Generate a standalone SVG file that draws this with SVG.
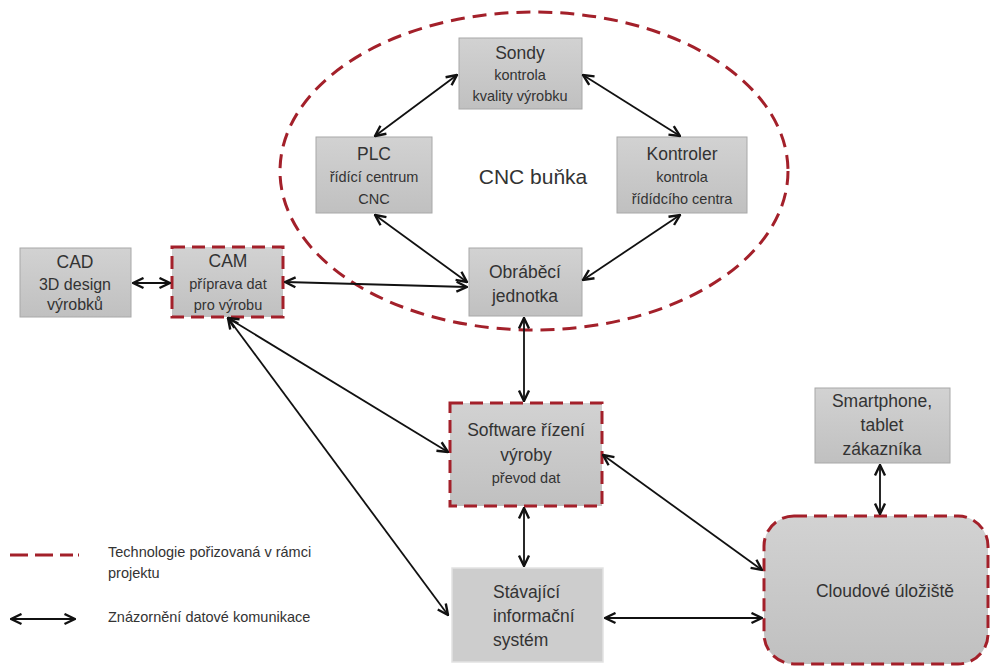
<svg xmlns="http://www.w3.org/2000/svg" width="991" height="667" viewBox="0 0 991 667">
<defs>
<linearGradient id="g" x1="0" y1="0" x2="0" y2="1">
<stop offset="0" stop-color="#d2d2d2"/>
<stop offset="1" stop-color="#c0c0c0"/>
</linearGradient>
<marker id="ah" markerUnits="userSpaceOnUse" viewBox="0 0 13 13" refX="12" refY="6.5" markerWidth="13" markerHeight="13" orient="auto-start-reverse">
<path d="M1.5,1.5 L12,6.5 L1.5,11.5" fill="none" stroke="#111" stroke-width="2.4" stroke-linejoin="miter"/>
</marker>
</defs>
<style>
.box{fill:url(#g);stroke:#a8a8a8;stroke-width:1}
.red{fill:url(#g);stroke:#a3202a;stroke-width:3;stroke-dasharray:13 7}
.redline{fill:none;stroke:#a3202a;stroke-width:3;stroke-dasharray:14 8}
.c{fill:none;stroke:#111;stroke-width:1.8;marker-start:url(#ah);marker-end:url(#ah)}
text{font-family:"Liberation Sans",Arial,sans-serif;fill:#333;text-anchor:middle}
.l{font-size:17.5px}
.s{font-size:14.5px}
.lg{font-size:14.5px;text-anchor:start}
</style>
<rect width="991" height="667" fill="#fff"/>

<g id="cnc-cell">
<ellipse cx="534" cy="171" rx="254" ry="159" class="redline"/>
<text x="533" y="184" style="font-size:21px">CNC buňka</text>
</g>

<g id="sondy">
<rect x="459" y="38" width="123" height="71" class="box"/>
<text x="520" y="59" class="l">Sondy</text>
<text x="520" y="80" class="s">kontrola</text>
<text x="520" y="101" class="s">kvality výrobku</text>
</g>

<g id="plc">
<rect x="316" y="137" width="116" height="76" class="box"/>
<text x="374" y="160" class="l">PLC</text>
<text x="374" y="182" class="s">řídící centrum</text>
<text x="374" y="204" class="s">CNC</text>
</g>

<g id="kontroler">
<rect x="617" y="137" width="130" height="76" class="box"/>
<text x="682" y="160" class="l">Kontroler</text>
<text x="682" y="182" class="s">kontrola</text>
<text x="682" y="204" class="s">řídídcího centra</text>
</g>

<g id="obrabeci">
<rect x="469" y="248" width="113" height="68" class="box"/>
<text x="525" y="278" class="l">Obráběcí</text>
<text x="525" y="302" class="l">jednotka</text>
</g>

<g id="cad">
<rect x="20" y="248" width="111" height="69" class="box"/>
<text x="75" y="268" class="l">CAD</text>
<text x="75" y="290" style="font-size:16px">3D design</text>
<text x="75" y="310" style="font-size:16px">výrobků</text>
</g>

<g id="cam">
<rect x="172" y="247" width="111" height="70" class="red"/>
<text x="228" y="267" class="l">CAM</text>
<text x="228" y="289" class="s">příprava dat</text>
<text x="228" y="310" class="s">pro výrobu</text>
</g>

<g id="software">
<rect x="450" y="403" width="152" height="103" class="red"/>
<text x="526" y="436" class="l">Software řízení</text>
<text x="526" y="461" class="l">výroby</text>
<text x="526" y="483" class="s">převod dat</text>
</g>

<g id="stavajici">
<rect x="452" y="568" width="151" height="94" fill="#cdcdcd" stroke="#e2e2e2" stroke-width="1.5"/>
<text x="493" y="598" class="l" style="text-anchor:start">Stávající</text>
<text x="493" y="622" class="l" style="text-anchor:start">informační</text>
<text x="493" y="646" class="l" style="text-anchor:start">systém</text>
</g>

<g id="smartphone">
<rect x="815" y="388" width="135" height="75" class="box"/>
<text x="882" y="407" class="l">Smartphone,</text>
<text x="882" y="431" class="l">tablet</text>
<text x="882" y="455" class="l">zákazníka</text>
</g>

<g id="cloud">
<rect x="764" y="516" width="224" height="148" rx="30" ry="30" class="red"/>
<text x="885" y="597" class="l">Cloudové úložiště</text>
</g>

<g id="connectors">
<line x1="457" y1="75" x2="375" y2="136" class="c"/>
<line x1="583" y1="75" x2="680" y2="136" class="c"/>
<line x1="375" y1="215" x2="467" y2="282" class="c"/>
<line x1="680" y1="215" x2="583" y2="280" class="c"/>
<line x1="285" y1="282" x2="467" y2="287" class="c"/>
<line x1="133" y1="283" x2="170" y2="283" class="c"/>
<line x1="524" y1="318" x2="524" y2="401" class="c"/>
<line x1="228" y1="318" x2="448" y2="452" class="c"/>
<line x1="228" y1="318" x2="448" y2="615" class="c"/>
<line x1="524" y1="508" x2="524" y2="566" class="c"/>
<line x1="603" y1="455" x2="762" y2="570" class="c"/>
<line x1="605" y1="618" x2="762" y2="618" class="c"/>
<line x1="880" y1="465" x2="880" y2="514" class="c"/>
</g>

<g id="legend">
<line x1="10" y1="555" x2="79" y2="555" stroke="#a3202a" stroke-width="3" stroke-dasharray="18 7 18 7 13 5 2"/>
<text x="108" y="557" class="lg">Technologie pořizovaná v rámci</text>
<text x="108" y="578" class="lg">projektu</text>
<line x1="11" y1="619" x2="75" y2="619" class="c"/>
<text x="108" y="622" class="lg">Znázornění datové komunikace</text>
</g>
</svg>
